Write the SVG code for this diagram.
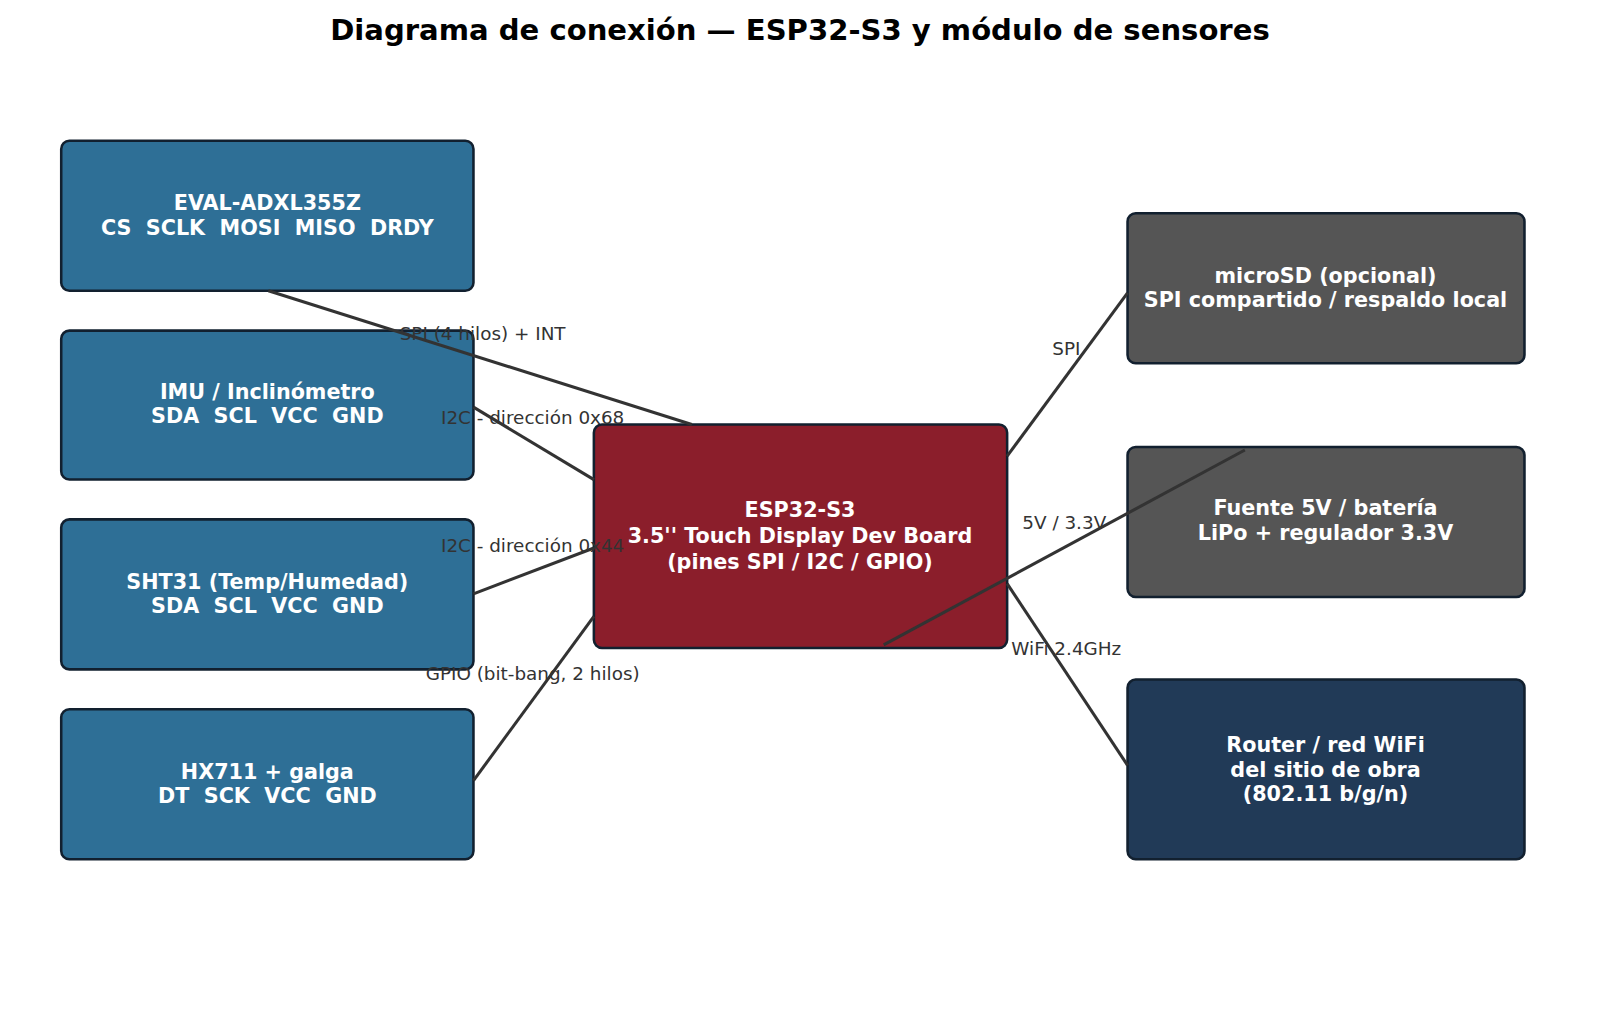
<svg xmlns="http://www.w3.org/2000/svg" width="1600" height="1034" viewBox="0 0 1600 1034">
<style>
text{font-family:"DejaVu Sans",sans-serif;white-space:pre}
.b{stroke:#12202f;stroke-width:2.5}
.t{fill:#fff;font-weight:bold;font-size:20.3px;text-anchor:middle}
.l{fill:#333;font-size:18px;text-anchor:middle}
.c{stroke:#333;stroke-width:3;fill:none}
</style>
<rect width="1600" height="1034" fill="#fff"/>
<g transform="scale(1.0204)">
<text x="784" y="39" text-anchor="middle" font-weight="bold" font-size="28.5">Diagrama de conexión — ESP32-S3 y módulo de sensores</text>
<g id="eval"><rect class="b" x="60" y="138" width="404" height="147" rx="8" fill="#2e6f96"/><text class="t" x="262" y="206">EVAL-ADXL355Z</text><text class="t" x="262" y="230" xml:space="preserve">CS  SCLK  MOSI  MISO  DRDY</text></g>
<g id="imu"><rect class="b" x="60" y="324" width="404" height="146" rx="8" fill="#2e6f96"/><text class="t" x="262" y="391">IMU / Inclinómetro</text><text class="t" x="262" y="415" xml:space="preserve">SDA  SCL  VCC  GND</text></g>
<g id="sht"><rect class="b" x="60" y="509" width="404" height="147" rx="8" fill="#2e6f96"/><text class="t" x="262" y="577">SHT31 (Temp/Humedad)</text><text class="t" x="262" y="601" xml:space="preserve">SDA  SCL  VCC  GND</text></g>
<g id="hx"><rect class="b" x="60" y="695" width="404" height="147" rx="8" fill="#2e6f96"/><text class="t" x="262" y="763">HX711 + galga</text><text class="t" x="262" y="787" xml:space="preserve">DT  SCK  VCC  GND</text></g>
<g id="esp"><rect class="b" x="582" y="416" width="405" height="219" rx="8" fill="#8b1e2b"/><text class="t" x="784" y="507">ESP32-S3</text><text class="t" x="784" y="532">3.5'' Touch Display Dev Board</text><text class="t" x="784" y="558">(pines SPI / I2C / GPIO)</text></g>
<g id="sd"><rect class="b" x="1105" y="209" width="389" height="147" rx="8" fill="#555"/><text class="t" x="1299" y="277">microSD (opcional)</text><text class="t" x="1299" y="301">SPI compartido / respaldo local</text></g>
<g id="power"><rect class="b" x="1105" y="438" width="389" height="147" rx="8" fill="#555"/><text class="t" x="1299" y="505">Fuente 5V / batería</text><text class="t" x="1299" y="529">LiPo + regulador 3.3V</text></g>
<g id="router"><rect class="b" x="1105" y="666" width="389" height="176" rx="8" fill="#213a57"/><text class="t" x="1299" y="737">Router / red WiFi</text><text class="t" x="1299" y="761">del sitio de obra</text><text class="t" x="1299" y="785">(802.11 b/g/n)</text></g>
<g id="connectors">
<line class="c" x1="263" y1="285" x2="678" y2="416"/>
<line class="c" x1="464" y1="399" x2="582" y2="470"/>
<line class="c" x1="464" y1="582" x2="582" y2="537"/>
<line class="c" x1="464" y1="765" x2="582" y2="604"/>
<line class="c" x1="987" y1="447" x2="1105" y2="287"/>
<line class="c" x1="866" y1="632" x2="1220" y2="441"/>
<line class="c" x1="987" y1="572" x2="1105" y2="750"/>
<text class="l" x="473" y="333">SPI (4 hilos) + INT</text>
<text class="l" x="522" y="416">I2C - dirección 0x68</text>
<text class="l" x="522" y="541">I2C - dirección 0x44</text>
<text class="l" x="522" y="666">GPIO (bit-bang, 2 hilos)</text>
<text class="l" x="1045" y="348">SPI</text>
<text class="l" x="1043" y="518">5V / 3.3V</text>
<text class="l" x="1045" y="642">WiFi 2.4GHz</text>
</g>
</g>
</svg>
